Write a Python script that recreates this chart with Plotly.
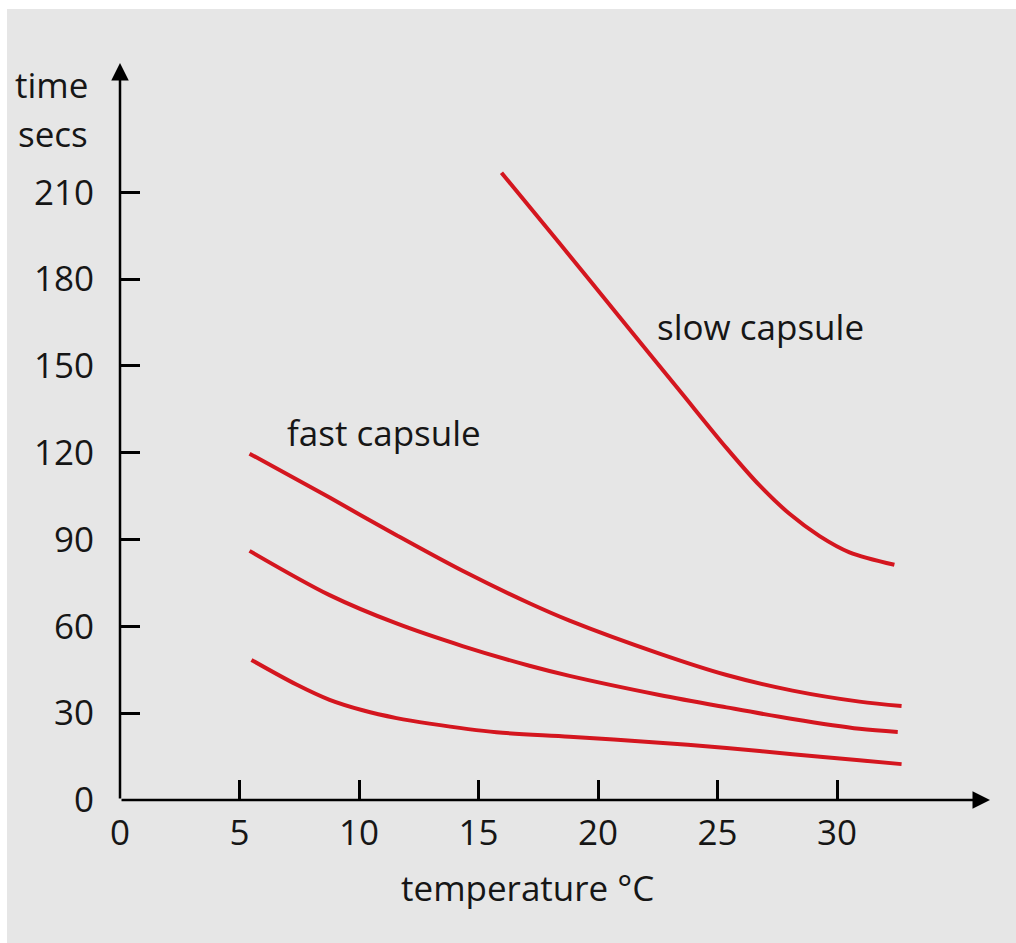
import plotly.graph_objects as go

# ---- data ----
x_ticks = [0, 5, 10, 15, 20, 25, 30]
y_ticks = [0, 30, 60, 90, 120, 150, 180, 210]

fast_top_x = [5.42, 8.77, 11.57, 14.33, 17.13, 18.81, 22.57, 25.38, 28.14, 30.94, 32.7]
fast_top_y = [119.7, 104.5, 91.5, 79.2, 68.0, 62.0, 50.6, 43.2, 37.8, 34.0, 32.5]

fast_mid_x = [5.42, 8.77, 11.57, 14.33, 17.13, 18.81, 22.57, 25.38, 28.14, 30.94, 32.54]
fast_mid_y = [86.1, 70.8, 61.0, 53.2, 46.4, 42.9, 36.3, 32.0, 28.0, 24.6, 23.5]

fast_low_x = [5.5, 7.38, 8.77, 10.15, 11.57, 12.95, 15.75, 18.81, 22.57, 25.38, 28.14, 30.94, 32.7]
fast_low_y = [48.4, 39.9, 34.6, 31.0, 28.3, 26.4, 23.4, 21.9, 19.8, 18.0, 15.8, 13.7, 12.4]

slow_x = [15.96, 18.39, 20.90, 23.41, 25.38, 26.76, 28.01, 29.27, 30.52, 32.40]
slow_y = [216.8, 192.4, 166.9, 141.5, 121.6, 108.7, 98.9, 91.2, 85.6, 81.3]

x_title = "temperature °C"
y_title_lines = ["time", "secs"]
label_fast = "fast capsule"
label_slow = "slow capsule"

# ---- style ----
RED = "#d4161f"
BG = "#e6e6e6"
FONT = "Open Sans"
FS = 35
TXT = "#161616"

X_MAX = 36.4
Y_MAX = 254.7

# plot-area geometry in pixels (figure 1016 x 943)
L, R, T, B = 120, 26, 63, 143
PW, PH = 1016 - L - R, 943 - T - B


def px_x(px):
    return (px - L) / PW


def px_y(py):
    return (943 - B - py) / PH


fig = go.Figure()
for xs, ys in [(fast_top_x, fast_top_y), (fast_mid_x, fast_mid_y),
               (fast_low_x, fast_low_y), (slow_x, slow_y)]:
    fig.add_trace(go.Scatter(x=xs, y=ys, mode="lines",
                             line=dict(color=RED, width=4, shape="spline", smoothing=0.9),
                             showlegend=False, hoverinfo="skip"))

axis_common = dict(showgrid=False, zeroline=False, showline=False,
                   ticks="inside", ticklen=20, tickwidth=2.5, tickcolor="black",
                   tickfont=dict(family=FONT, size=FS, color=TXT))

fig.update_xaxes(range=[0, X_MAX], tickvals=x_ticks, ticktext=[str(v) for v in x_ticks],
                 ticklabelstandoff=9, **axis_common)
fig.update_yaxes(range=[0, Y_MAX], tickvals=y_ticks, ticktext=[str(v) for v in y_ticks],
                 ticklabelstandoff=25, **axis_common)

txt_font = dict(family=FONT, size=FS, color=TXT)
annotations = [
    # axes with arrow heads
    dict(x=X_MAX, y=0, ax=0, ay=0, xref="x", yref="y", axref="x", ayref="y",
         showarrow=True, arrowhead=2, arrowsize=1.4, arrowwidth=2.5, arrowcolor="black",
         text="", standoff=0, startstandoff=0),
    dict(x=0, y=Y_MAX, ax=0, ay=0, xref="x", yref="y", axref="x", ayref="y",
         showarrow=True, arrowhead=2, arrowsize=1.4, arrowwidth=2.5, arrowcolor="black",
         text="", standoff=0, startstandoff=0),
    # y-axis title lines
    dict(x=px_x(90), y=px_y(85), xref="paper", yref="paper",
         text=y_title_lines[0], showarrow=False, xanchor="right", yanchor="middle",
         font=txt_font),
    dict(x=px_x(90), y=px_y(133), xref="paper", yref="paper",
         text=y_title_lines[1], showarrow=False, xanchor="right", yanchor="middle",
         font=txt_font),
    # x-axis title
    dict(x=px_x(527), y=px_y(888), xref="paper", yref="paper",
         text=x_title, showarrow=False, xanchor="center", yanchor="middle",
         font=txt_font),
    # curve labels
    dict(x=6.9, y=127.0, xref="x", yref="y", text=label_fast, showarrow=False,
         xanchor="left", yanchor="middle", font=txt_font),
    dict(x=22.4, y=163.5, xref="x", yref="y", text=label_slow, showarrow=False,
         xanchor="left", yanchor="middle", font=txt_font),
]

shapes = [
    # thin white scan border at the left and top edges
    dict(type="rect", xref="paper", yref="paper",
         x0=px_x(-2), x1=px_x(7), y0=px_y(945), y1=px_y(-2),
         fillcolor="white", line=dict(width=0), layer="above"),
    dict(type="rect", xref="paper", yref="paper",
         x0=px_x(-2), x1=px_x(1018), y0=px_y(9), y1=px_y(-2),
         fillcolor="white", line=dict(width=0), layer="above"),
]

fig.update_layout(width=1016, height=943,
                  margin=dict(l=L, r=R, t=T, b=B),
                  paper_bgcolor=BG, plot_bgcolor=BG,
                  annotations=annotations, shapes=shapes,
                  font=dict(family=FONT))

fig.write_html(
    "out.html",
    config={"displayModeBar": False},
    post_script="document.body.style.margin='0';"
                "document.body.style.overflow='hidden';"
                "document.documentElement.style.overflow='hidden';",
)
